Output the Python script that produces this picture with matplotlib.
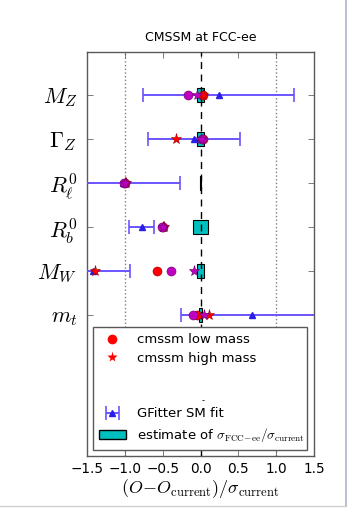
import matplotlib
matplotlib.use("Agg")
import matplotlib.pyplot as plt
from matplotlib.lines import Line2D
from matplotlib.patches import Rectangle
import numpy as np

plt.rcParams['mathtext.fontset'] = 'cm'
plt.rcParams['font.family'] = ['DejaVu Sans']

# ---- data ----
observables = [r'$M_Z$', r'$\Gamma_Z$', r'$R_\ell^0$', r'$R_b^0$', r'$M_W$', r'$m_t$']
ypos = [6, 5, 4, 3, 2, 1]

gfitter_center = [0.24, -0.09, -1.02, -0.775, -1.42, 0.68]
gfitter_err = [1.00, 0.61, 0.75, 0.165, 0.49, 0.94]

fcc_ratio = [0.09, 0.10, 0.01, 0.19, 0.09, 0.035]

low_mass = [0.03, 0.03, -1.00, -0.49, -0.57, -0.05]
high_mass = [0.03, -0.32, -0.98, -0.48, -1.40, 0.117]
low_mass_b = [-0.16, 0.015, -1.01, -0.505, -0.39, -0.10]
high_mass_b = [-0.05, 0.00, -1.00, -0.50, -0.085, 0.05]

xticks = [-1.5, -1.0, -0.5, 0.0, 0.5, 1.0, 1.5]

fig = plt.figure(figsize=(3.5, 5.08), dpi=100)
ax = fig.add_axes([87/350, 1-456/508, 227/350, 404/508])

# reference lines
ax.axvline(-1, color='0.5', ls=':', lw=1, zorder=1)
ax.axvline(1, color='0.5', ls=':', lw=1, zorder=1)

# FCC-ee boxes
ax.barh(ypos, fcc_ratio, left=-np.array(fcc_ratio)/2, height=0.32,
        color='c', edgecolor='black', lw=0.8, zorder=2)
ax.axvline(0, color='black', ls='--', lw=1, zorder=3, dashes=(5, 4))

# GFitter
eb = ax.errorbar(gfitter_center, ypos, xerr=gfitter_err, fmt='^', color='#2a1ee8',
                 ecolor='#6a55ff', elinewidth=1.4, capsize=5, capthick=1.2, ms=4.5,
                 mec='#2a1ee8', zorder=4)

ax.plot(low_mass, ypos, 'o', color='red', ms=6.5, mec='#990000', mew=0.4, ls='none', zorder=5)
ax.plot(high_mass, ypos, '*', color='red', ms=8, mec='#990000', mew=0.4, ls='none', zorder=5)
ax.plot(low_mass_b, ypos, 'o', color='m', ms=6.5, mec='#660066', mew=0.4, ls='none', zorder=6)
ax.plot(high_mass_b, ypos, '*', color='m', ms=8, mec='#660066', mew=0.4, ls='none', zorder=6)

ax.set_xlim(-1.5, 1.5)
ax.set_ylim(-2.2, 6.97)
ax.set_xticks(xticks)
ax.set_xticklabels([f'{t:.1f}'.replace('-', '\u2212') for t in xticks], fontsize=9.8)
ax.set_yticks(ypos)
ax.set_yticklabels(observables, fontsize=16)
ax.tick_params(axis='both', direction='in', top=True, right=True, length=4, width=0.6, color='0.4')
ax.tick_params(axis='y', pad=7)
ax.tick_params(axis='x', pad=4)
for s in ax.spines.values():
    s.set_color('0.35')
    s.set_linewidth(1.0)

ax.set_title('CMSSM at FCC-ee', fontsize=9, pad=8)
ax.set_xlabel(r'$(O\!-\!O_{\rm current})/\sigma_{\rm current}$', fontsize=13, labelpad=1)

# legend
h_low = Line2D([], [], marker='o', color='red', ls='none', ms=7, mec='none')
h_high = Line2D([], [], marker='*', color='red', ls='none', ms=8, mec='none')
h_blank1 = Line2D([], [], ls='none', marker='none')
h_blank2 = Line2D([], [], ls='none', marker='none')
h_box = Rectangle((0, 0), 1, 1, facecolor='c', edgecolor='black', lw=1)
leg = ax.legend([h_low, h_high, h_blank1, h_blank2, eb, h_box],
                ['cmssm low mass', 'cmssm high mass', ' ', ' ', 'GFitter SM fit',
                 r'estimate of $\sigma_{\rm FCC\!-\!ee}/\sigma_{\rm current}$'],
                loc='lower left', bbox_to_anchor=(0.028, 0.015, 0.943, 0.3), mode='expand',
                borderaxespad=0, fontsize=9.5, numpoints=1, fancybox=False,
                labelspacing=0.42, handlelength=2.0, handletextpad=0.85, borderpad=0.45,
                framealpha=1, edgecolor='0.35')
leg.get_frame().set_linewidth(1.0)
leg.set_zorder(10)
ax.text((203-87)/227, (456-401)/404, '-', transform=ax.transAxes, fontsize=6,
        ha='center', va='center', zorder=11)

# screenshot frame edges
fig.add_artist(Line2D([346/350, 346/350], [2/508, 1], color='#aab4c8', lw=1.2))
fig.add_artist(Line2D([0, 346/350], [2/508, 2/508], color='#d0d0d0', lw=1.0))

fig.savefig('out.png', dpi=100)
